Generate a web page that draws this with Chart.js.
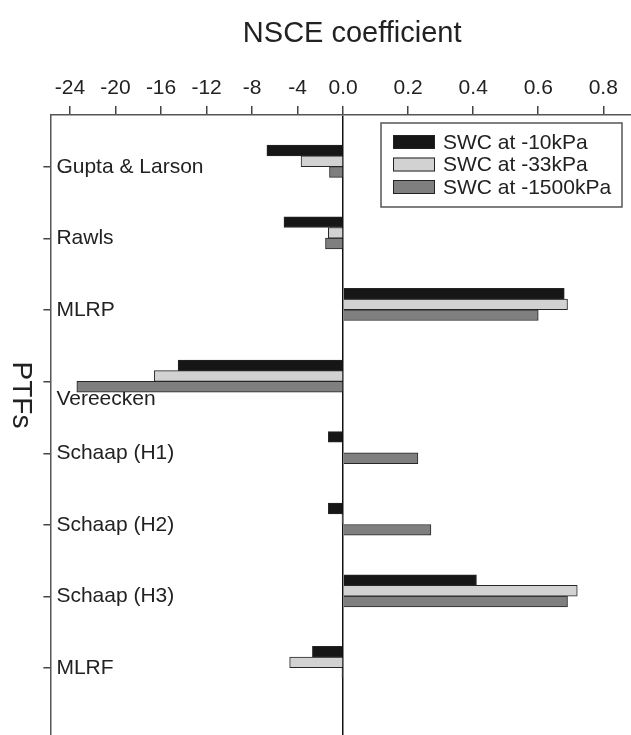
<!DOCTYPE html>
<html>
<head>
<meta charset="utf-8">
<script src="https://cdn.jsdelivr.net/npm/chart.js@4.4.0/dist/chart.umd.min.js"></script>
<style>
    html, body { margin: 0; padding: 0; background: #fff; overflow: hidden; }
</style>
</head>
<body>
<!-- the figure is cropped on the right and at the bottom, so the canvas runs past the window -->
<canvas id="chart" width="654" height="785"></canvas>
<script>
// categories (top to bottom)
var categories = ['Gupta & Larson', 'Rawls', 'MLRP', 'Vereecken', 'Schaap (H1)', 'Schaap (H2)', 'Schaap (H3)', 'MLRF'];
// NSCE per PTF (null = no bar)
var swc10 = [-6.7, -5.2, 0.68, -14.5, -1.3, -1.3, 0.41, -2.7];
var swc33 = [-3.7, -1.3, 0.69, -16.6, null, -0.1, 0.72, -4.7];
var swc1500 = [-1.2, -1.55, 0.60, -23.4, 0.23, 0.27, 0.69, -0.1];
var seriesNames = ['SWC at -10kPa', 'SWC at -33kPa', 'SWC at -1500kPa'];
// the axis is split: negative side in steps of 4, positive side in steps of 0.2
var negTicks = [-24, -20, -16, -12, -8, -4];
var posTicks = [0, 0.2, 0.4, 0.6, 0.8];
var xTitle = 'NSCE coefficient';
var yTitle = 'PTFs';

var NEG_SCALE = 0.035;
var FONT = '"Liberation Sans", Arial, sans-serif';

function toAxis(v) {
    return v < 0 ? v * NEG_SCALE : v;
}

function points(values) {
    var out = [];
    values.forEach(function (v, i) {
        if (v !== null) {
            out.push({ x: toAxis(v), y: i });
        }
    });
    return out;
}

//draws the rotated y title and the boxed legend
var extras = {
    id: 'extras',
    afterDraw: function (chart) {
        var ctx = chart.ctx;
        ctx.save();
        ctx.fillStyle = '#222';
        ctx.font = '28px ' + FONT;
        ctx.textAlign = 'center';
        ctx.textBaseline = 'middle';
        ctx.translate(21, 395);
        ctx.rotate(Math.PI / 2);
        ctx.fillText(yTitle, 0, 0);
        ctx.restore();

        var box = { left: 381, top: 123, width: 241, height: 84 };
        ctx.save();
        ctx.fillStyle = '#fff';
        ctx.fillRect(box.left, box.top, box.width, box.height);
        ctx.strokeStyle = '#555';
        ctx.lineWidth = 1.5;
        ctx.strokeRect(box.left, box.top, box.width, box.height);
        ctx.font = '21px ' + FONT;
        ctx.textAlign = 'left';
        ctx.textBaseline = 'middle';
        chart.data.datasets.forEach(function (ds, i) {
            var cy = box.top + 19 + i * 22.5;
            ctx.fillStyle = ds.backgroundColor;
            ctx.fillRect(box.left + 12, cy - 7, 42, 14);
            ctx.strokeStyle = '#222';
            ctx.lineWidth = 1;
            ctx.strokeRect(box.left + 12.5, cy - 6.5, 41, 13);
            ctx.fillStyle = '#222';
            ctx.fillText(ds.label, box.left + 62, cy + 1);
        });
        ctx.restore();
    }
};

var colors = ['#161616', '#d2d2d2', '#7f7f7f'];
var values = [swc10, swc33, swc1500];

var config = {
    type: 'bar',
    data: {
        datasets: values.map(function (vals, i) {
            return {
                label: seriesNames[i],
                data: points(vals),
                backgroundColor: colors[i],
                borderColor: '#262626',
                borderWidth: 1,
                barThickness: 10.7
            };
        })
    },
    options: {
        indexAxis: 'y',
        responsive: false,
        animation: false,
        devicePixelRatio: 1,
        layout: {
            padding: { left: 31.4, top: 17, right: 0, bottom: 0 }
        },
        plugins: {
            legend: { display: false },
            tooltip: { enabled: false }
        },
        scales: {
            x: {
                type: 'linear',
                position: 'top',
                min: -0.9003,
                max: 0.956,
                afterBuildTicks: function (scale) {
                    scale.ticks = negTicks.map(toAxis).concat(posTicks).map(function (v) {
                        return { value: v };
                    });
                },
                ticks: {
                    autoSkip: false,
                    maxRotation: 0,
                    padding: 5,
                    color: '#222',
                    font: { family: FONT, size: 21 },
                    callback: function (value) {
                        if (value < 0) {
                            return String(Math.round(value / NEG_SCALE));
                        }
                        return value.toFixed(1);
                    }
                },
                grid: {
                    drawOnChartArea: true,
                    tickLength: 9,
                    tickColor: '#444',
                    lineWidth: 1.5,
                    color: function (c) {
                        return c.tick && c.tick.value === 0 ? '#111' : 'rgba(0,0,0,0)';
                    }
                },
                border: { display: true, color: '#555', width: 1.5 },
                title: {
                    display: true,
                    text: xTitle,
                    color: '#222',
                    font: { family: FONT, size: 29 },
                    padding: { top: 0, bottom: 19 }
                }
            },
            y: {
                type: 'linear',
                position: 'left',
                reverse: true,
                offset: false,
                min: -0.646,
                max: 8.38,
                afterBuildTicks: function (scale) {
                    scale.ticks = categories.map(function (c, i) {
                        return { value: i + 0.081 };
                    });
                },
                ticks: {
                    autoSkip: false,
                    mirror: true,
                    padding: 6,
                    color: '#222',
                    font: { family: FONT, size: 21, lineHeight: 1.7 },
                    callback: function (value) {
                        var name = categories[Math.round(value)];
                        //Vereecken label sits below its bars
                        return name === 'Vereecken' ? ['', name] : name;
                    }
                },
                grid: {
                    offset: false,
                    drawOnChartArea: false,
                    tickLength: 7,
                    tickColor: '#444',
                    lineWidth: 1.5
                },
                border: { display: true, color: '#555', width: 1.5 }
            }
        }
    },
    plugins: [extras]
};

new Chart(document.getElementById('chart').getContext('2d'), config);
</script>
</body>
</html>
